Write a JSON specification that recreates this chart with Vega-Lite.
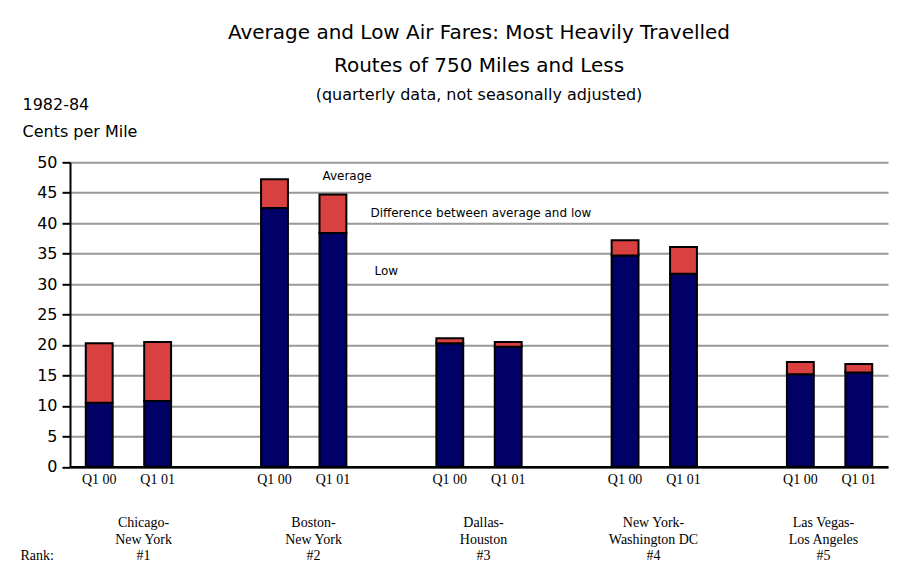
{
  "$schema": "https://vega.github.io/schema/vega-lite/v6.json",
  "autosize": {"type": "none"},
  "width": 818,
  "height": 304.5,
  "padding": {"left": 70, "top": 162.3, "right": 12, "bottom": 106},
  "background": "white",
  "config": {
    "font": "DejaVu Sans",
    "view": {"stroke": null},
    "axis": {"labelColor": "black", "titleColor": "black", "titleFontWeight": "normal"}
  },
  "title": {
    "text": ["Average and Low Air Fares: Most Heavily Travelled", "Routes of 750 Miles and Less"],
    "subtitle": "(quarterly data, not seasonally adjusted)",
    "fontSize": 20,
    "fontWeight": "normal",
    "lineHeight": 33,
    "subtitleFontSize": 16,
    "subtitleColor": "black",
    "subtitlePadding": 11,
    "color": "black",
    "anchor": "middle",
    "frame": "group",
    "offset": 4,
    "dy": 11
  },
  "datasets": {
    "fares": [
      {"route": "Chicago-New York", "quarter": "Q1 00", "slot": "1 Q1 00", "low": 10.5, "average": 20.3},
      {"route": "Chicago-New York", "quarter": "Q1 01", "slot": "1 Q1 01", "low": 10.8, "average": 20.5},
      {"route": "Boston-New York", "quarter": "Q1 00", "slot": "2 Q1 00", "low": 42.5, "average": 47.2},
      {"route": "Boston-New York", "quarter": "Q1 01", "slot": "2 Q1 01", "low": 38.4, "average": 44.7},
      {"route": "Dallas-Houston", "quarter": "Q1 00", "slot": "3 Q1 00", "low": 20.3, "average": 21.1},
      {"route": "Dallas-Houston", "quarter": "Q1 01", "slot": "3 Q1 01", "low": 19.7, "average": 20.5},
      {"route": "New York-Washington DC", "quarter": "Q1 00", "slot": "4 Q1 00", "low": 34.7, "average": 37.2},
      {"route": "New York-Washington DC", "quarter": "Q1 01", "slot": "4 Q1 01", "low": 31.7, "average": 36.1},
      {"route": "Las Vegas-Los Angeles", "quarter": "Q1 00", "slot": "5 Q1 00", "low": 15.2, "average": 17.2},
      {"route": "Las Vegas-Los Angeles", "quarter": "Q1 01", "slot": "5 Q1 01", "low": 15.5, "average": 16.9}
    ],
    "notes": [
      {"label": "Average", "slot": "2 Q1 01", "value": 47.75},
      {"label": "Difference between average and low", "slot": "2 Q1 01", "value": 41.6},
      {"label": "Low", "slot": "2 Q1 01", "value": 32.2}
    ],
    "routes": [
      {"route": "Chicago-|New York|#1"},
      {"route": "Boston-|New York|#2"},
      {"route": "Dallas-|Houston|#3"},
      {"route": "New  York-|Washington DC|#4"},
      {"route": "Las Vegas-|Los Angeles|#5"}
    ]
  },
  "layer": [
    {
      "data": {"name": "fares"},
      "mark": {"type": "bar", "fill": "#000066", "stroke": "black", "strokeWidth": 2},
      "encoding": {
        "x": {
          "field": "slot", "type": "nominal", "sort": null,
          "scale": {
            "domain": ["1 Q1 00", "1 Q1 01", "1 gap", "2 Q1 00", "2 Q1 01", "2 gap", "3 Q1 00", "3 Q1 01", "3 gap", "4 Q1 00", "4 Q1 01", "4 gap", "5 Q1 00", "5 Q1 01"],
            "paddingInner": 0.54, "paddingOuter": 0.27
          },
          "axis": {
            "title": null, "labelAngle": 0, "ticks": false,
            "labelExpr": "indexof(datum.value, 'gap') >= 0 ? '' : slice(datum.value, 2)",
            "labelFont": "Liberation Serif", "labelFontSize": 14,
            "labelBaseline": "top", "labelPadding": 6,
            "domainColor": "black", "domainWidth": 2.5,
            "grid": false
          }
        },
        "y": {
          "field": "low", "type": "quantitative", "stack": null,
          "scale": {"domain": [0, 50], "nice": false},
          "axis": {
            "values": [0, 5, 10, 15, 20, 25, 30, 35, 40, 45, 50],
            "tickCount": 12,
            "labelOverlap": false,
            "title": ["1982-84", "Cents per Mile"],
            "titleAngle": 0, "titleAlign": "left", "titleBaseline": "top",
            "titleX": -48, "titleY": -66, "titleFontSize": 16, "titleLineHeight": 27,
            "labelFontSize": 16, "labelPadding": 5,
            "tickSize": 8, "tickColor": "black", "tickWidth": 2,
            "domainColor": "black", "domainWidth": 2,
            "grid": true, "gridColor": "#999999", "gridWidth": 2
          }
        }
      }
    },
    {
      "data": {"name": "fares"},
      "mark": {"type": "bar", "fill": "#d94141", "stroke": "black", "strokeWidth": 2},
      "encoding": {
        "x": {"field": "slot", "type": "nominal", "sort": null, "scale": {"domain": ["1 Q1 00", "1 Q1 01", "1 gap", "2 Q1 00", "2 Q1 01", "2 gap", "3 Q1 00", "3 Q1 01", "3 gap", "4 Q1 00", "4 Q1 01", "4 gap", "5 Q1 00", "5 Q1 01"], "paddingInner": 0.54, "paddingOuter": 0.27}, "axis": null},
        "y": {"field": "low", "type": "quantitative"},
        "y2": {"field": "average"}
      }
    },
    {
      "data": {"name": "notes"},
      "transform": [{"filter": "datum.label == 'Average'"}],
      "mark": {"type": "text", "align": "left", "baseline": "middle", "fontSize": 12, "dx": -10.5, "color": "black"},
      "encoding": {
        "x": {"field": "slot", "type": "nominal", "sort": null, "scale": {"domain": ["1 Q1 00", "1 Q1 01", "1 gap", "2 Q1 00", "2 Q1 01", "2 gap", "3 Q1 00", "3 Q1 01", "3 gap", "4 Q1 00", "4 Q1 01", "4 gap", "5 Q1 00", "5 Q1 01"], "paddingInner": 0.54, "paddingOuter": 0.27}, "axis": null},
        "y": {"field": "value", "type": "quantitative"},
        "text": {"field": "label"}
      }
    },
    {
      "data": {"name": "notes"},
      "transform": [{"filter": "datum.label == 'Difference between average and low'"}],
      "mark": {"type": "text", "align": "left", "baseline": "middle", "fontSize": 12, "dx": 37.5, "color": "black"},
      "encoding": {
        "x": {"field": "slot", "type": "nominal", "sort": null, "scale": {"domain": ["1 Q1 00", "1 Q1 01", "1 gap", "2 Q1 00", "2 Q1 01", "2 gap", "3 Q1 00", "3 Q1 01", "3 gap", "4 Q1 00", "4 Q1 01", "4 gap", "5 Q1 00", "5 Q1 01"], "paddingInner": 0.54, "paddingOuter": 0.27}, "axis": null},
        "y": {"field": "value", "type": "quantitative"},
        "text": {"field": "label"}
      }
    },
    {
      "data": {"name": "notes"},
      "transform": [{"filter": "datum.label == 'Low'"}],
      "mark": {"type": "text", "align": "left", "baseline": "middle", "fontSize": 12, "dx": 41.5, "color": "black"},
      "encoding": {
        "x": {"field": "slot", "type": "nominal", "sort": null, "scale": {"domain": ["1 Q1 00", "1 Q1 01", "1 gap", "2 Q1 00", "2 Q1 01", "2 gap", "3 Q1 00", "3 Q1 01", "3 gap", "4 Q1 00", "4 Q1 01", "4 gap", "5 Q1 00", "5 Q1 01"], "paddingInner": 0.54, "paddingOuter": 0.27}, "axis": null},
        "y": {"field": "value", "type": "quantitative"},
        "text": {"field": "label"}
      }
    },
    {
      "data": {"name": "routes"},
      "mark": {"type": "point", "opacity": 0},
      "encoding": {
        "x": {
          "field": "route", "type": "nominal", "sort": null,
          "scale": {"type": "point", "padding": 0.406},
          "axis": {
            "orient": "bottom",
            "labelExpr": "split(datum.value, '|')",
            "labelAngle": 0, "ticks": false, "domain": false, "grid": false,
            "labelFont": "Liberation Serif", "labelFontSize": 14,
            "labelBaseline": "top", "labelPadding": 49, "labelLineHeight": 16.5,
            "labelOffset": 4,
            "title": "Rank:", "titleFont": "Liberation Serif", "titleFontSize": 14,
            "titleAngle": 0, "titleAlign": "left", "titleBaseline": "middle",
            "titleX": -50, "titleY": 89
          }
        }
      }
    }
  ],
  "resolve": {"scale": {"x": "independent"}, "axis": {"x": "independent"}}
}
